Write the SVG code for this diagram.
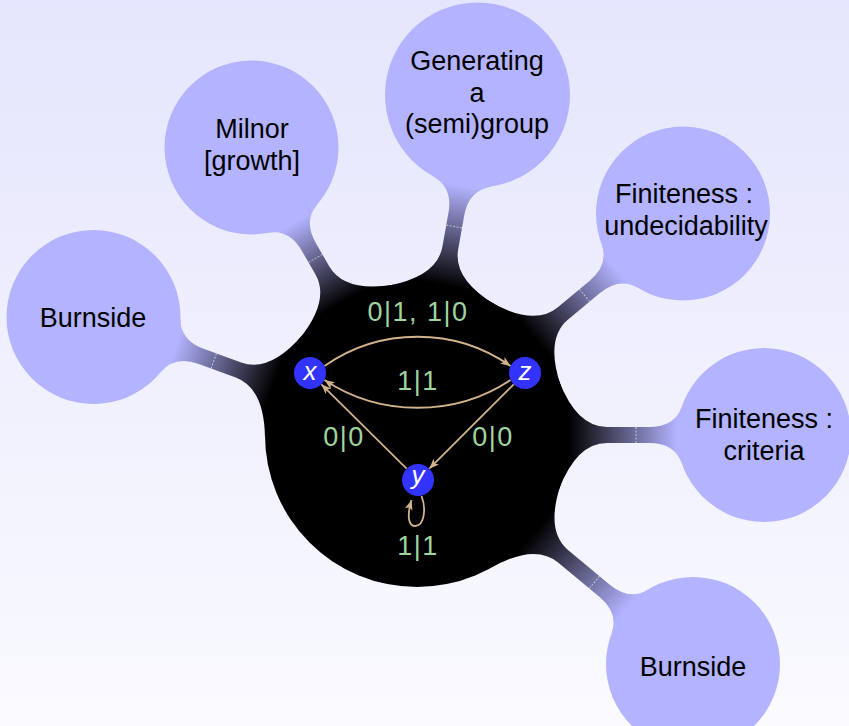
<svg xmlns="http://www.w3.org/2000/svg" width="849" height="726" viewBox="0 0 849 726">
<defs>
<linearGradient id="bg" x1="0" y1="0" x2="0" y2="1"><stop offset="0" stop-color="#e5e5fd"/><stop offset="1" stop-color="#fafaff"/></linearGradient>
<linearGradient id="cg" gradientUnits="userSpaceOnUse" x1="152" y1="0" x2="258" y2="0"><stop offset="0" stop-color="#000"/><stop offset="1" stop-color="#b3b3ff"/></linearGradient>
<linearGradient id="cg1" href="#cg" x2="257"/>
<linearGradient id="cg2" href="#cg" x2="245"/>
<linearGradient id="cg3" href="#cg" x2="253"/>
<linearGradient id="cg4" href="#cg" x2="259"/>
<linearGradient id="cg5" href="#cg" x2="260"/>
<linearGradient id="cg6" href="#cg" x2="272"/>
<marker id="ah" markerUnits="userSpaceOnUse" markerWidth="12" markerHeight="10" refX="10" refY="4" orient="auto"><path d="M0,0 L10,4 L0,8 L2.5,4 z" fill="#d2b48c"/></marker>
</defs>
<style>
.concept{fill:#b3b3ff}
.ct{font-family:"Liberation Sans",Arial,sans-serif;font-size:27px;fill:#000;text-anchor:middle}
.lbl{font-family:"Liberation Sans",Arial,sans-serif;font-size:27px;fill:#9fd49f;text-anchor:middle;letter-spacing:1.5px}
.edge{fill:none;stroke:#d2b48c;stroke-width:1.8;marker-end:url(#ah)}
.state{fill:#3333ff}
.st{font-family:"Liberation Sans",Arial,sans-serif;font-style:italic;font-size:26px;fill:#fff;text-anchor:middle}
.seam{stroke:#fff;stroke-width:1;stroke-dasharray:2 1.5;opacity:.6}
</style>
<rect width="849" height="726" fill="url(#bg)"/>
<g id="connections">
<g transform="translate(417 435) rotate(-160)"><path fill="url(#cg1)" d="M141.9,-54.5 Q159.7,-8 190,-8 L229.3,-8 Q255,-8 262,-28.3 L262,28.3 Q255,8 229.3,8 L190,8 Q159.7,8 141.9,54.5 Z"/><line class="seam" x1="216.3" y1="-8" x2="216.3" y2="8"/></g>
<g transform="translate(417 435) rotate(-119.9)"><path fill="url(#cg2)" d="M141.9,-54.5 Q159.7,-8 190,-8 L216.7,-8 Q242.4,-8 249.4,-28.3 L249.4,28.3 Q242.4,8 216.7,8 L190,8 Q159.7,8 141.9,54.5 Z"/><line class="seam" x1="203.7" y1="-8" x2="203.7" y2="8"/></g>
<g transform="translate(417 435) rotate(-79.9)"><path fill="url(#cg3)" d="M141.9,-54.5 Q159.7,-8 190,-8 L224.8,-8 Q250.2,-8 257.8,-30.1 L257.8,30.1 Q250.2,8 224.8,8 L190,8 Q159.7,8 141.9,54.5 Z"/><line class="seam" x1="211.8" y1="-8" x2="211.8" y2="8"/></g>
<g transform="translate(417 435) rotate(-39.8)"><path fill="url(#cg4)" d="M141.9,-54.5 Q159.7,-8 190,-8 L231.1,-8 Q256.8,-8 263.8,-28.3 L263.8,28.3 Q256.8,8 231.1,8 L190,8 Q159.7,8 141.9,54.5 Z"/><line class="seam" x1="218.1" y1="-8" x2="218.1" y2="8"/></g>
<g transform="translate(417 435)"><path fill="url(#cg5)" d="M141.9,-54.5 Q159.7,-8 190,-8 L232,-8 Q257.7,-8 264.7,-28.3 L264.7,28.3 Q257.7,8 232,8 L190,8 Q159.7,8 141.9,54.5 Z"/><line class="seam" x1="219" y1="-8" x2="219" y2="8"/></g>
<g transform="translate(417 435) rotate(39.7)"><path fill="url(#cg6)" d="M141.9,-54.5 Q159.7,-8 190,-8 L243.6,-8 Q269.3,-8 276.3,-28.3 L276.3,28.3 Q269.3,8 243.6,8 L190,8 Q159.7,8 141.9,54.5 Z"/><line class="seam" x1="230.6" y1="-8" x2="230.6" y2="8"/></g>
</g>
<g id="root"><circle cx="417" cy="435" r="152" fill="#000"/></g>
<g id="burnside-left"><circle class="concept" cx="93.5" cy="317" r="87"/><text class="ct" x="93" y="327">Burnside</text></g>
<g id="milnor"><circle class="concept" cx="251.5" cy="147.5" r="87"/><text class="ct" x="252" y="138">Milnor</text><text class="ct" x="252" y="170">[growth]</text></g>
<g id="generating"><circle class="concept" cx="477.5" cy="95" r="92.5"/><text class="ct" x="477" y="70">Generating</text><text class="ct" x="477" y="102">a</text><text class="ct" x="477" y="133">(semi)group</text></g>
<g id="finiteness-undecidability"><circle class="concept" cx="683" cy="213.5" r="87"/><text class="ct" x="684" y="203">Finiteness :</text><text class="ct" x="686" y="235">undecidability</text></g>
<g id="finiteness-criteria"><circle class="concept" cx="764" cy="435" r="87"/><text class="ct" x="764" y="428">Finiteness :</text><text class="ct" x="764" y="460">criteria</text></g>
<g id="burnside-right"><circle class="concept" cx="693" cy="664" r="87"/><text class="ct" x="693" y="676">Burnside</text></g>
<g id="automaton-edges">
<path class="edge" d="M324.5,366 C380,327 455,327 510.5,366"/>
<path class="edge" d="M510.5,380 C455,417 380,417 324.5,380"/>
<path class="edge" d="M406.6,468.7 L321.4,384.3"/>
<path class="edge" d="M513.7,384.3 L429.3,468.7"/>
<path class="edge" d="M421.5,496 C426,507 425,526 415,526 C408,526 407,515 411.5,500"/>
<text class="lbl" x="418" y="321">0|1, 1|0</text>
<text class="lbl" x="418" y="390">1|1</text>
<text class="lbl" x="344" y="446">0|0</text>
<text class="lbl" x="493" y="446">0|0</text>
<text class="lbl" x="418" y="555">1|1</text>
</g>
<g id="state-x"><circle class="state" cx="310" cy="373" r="16"/><text class="st" x="310" y="380">x</text></g>
<g id="state-z"><circle class="state" cx="525" cy="373" r="16"/><text class="st" x="525" y="380">z</text></g>
<g id="state-y"><circle class="state" cx="418" cy="480" r="16"/><text class="st" x="418" y="484">y</text></g>
</svg>
